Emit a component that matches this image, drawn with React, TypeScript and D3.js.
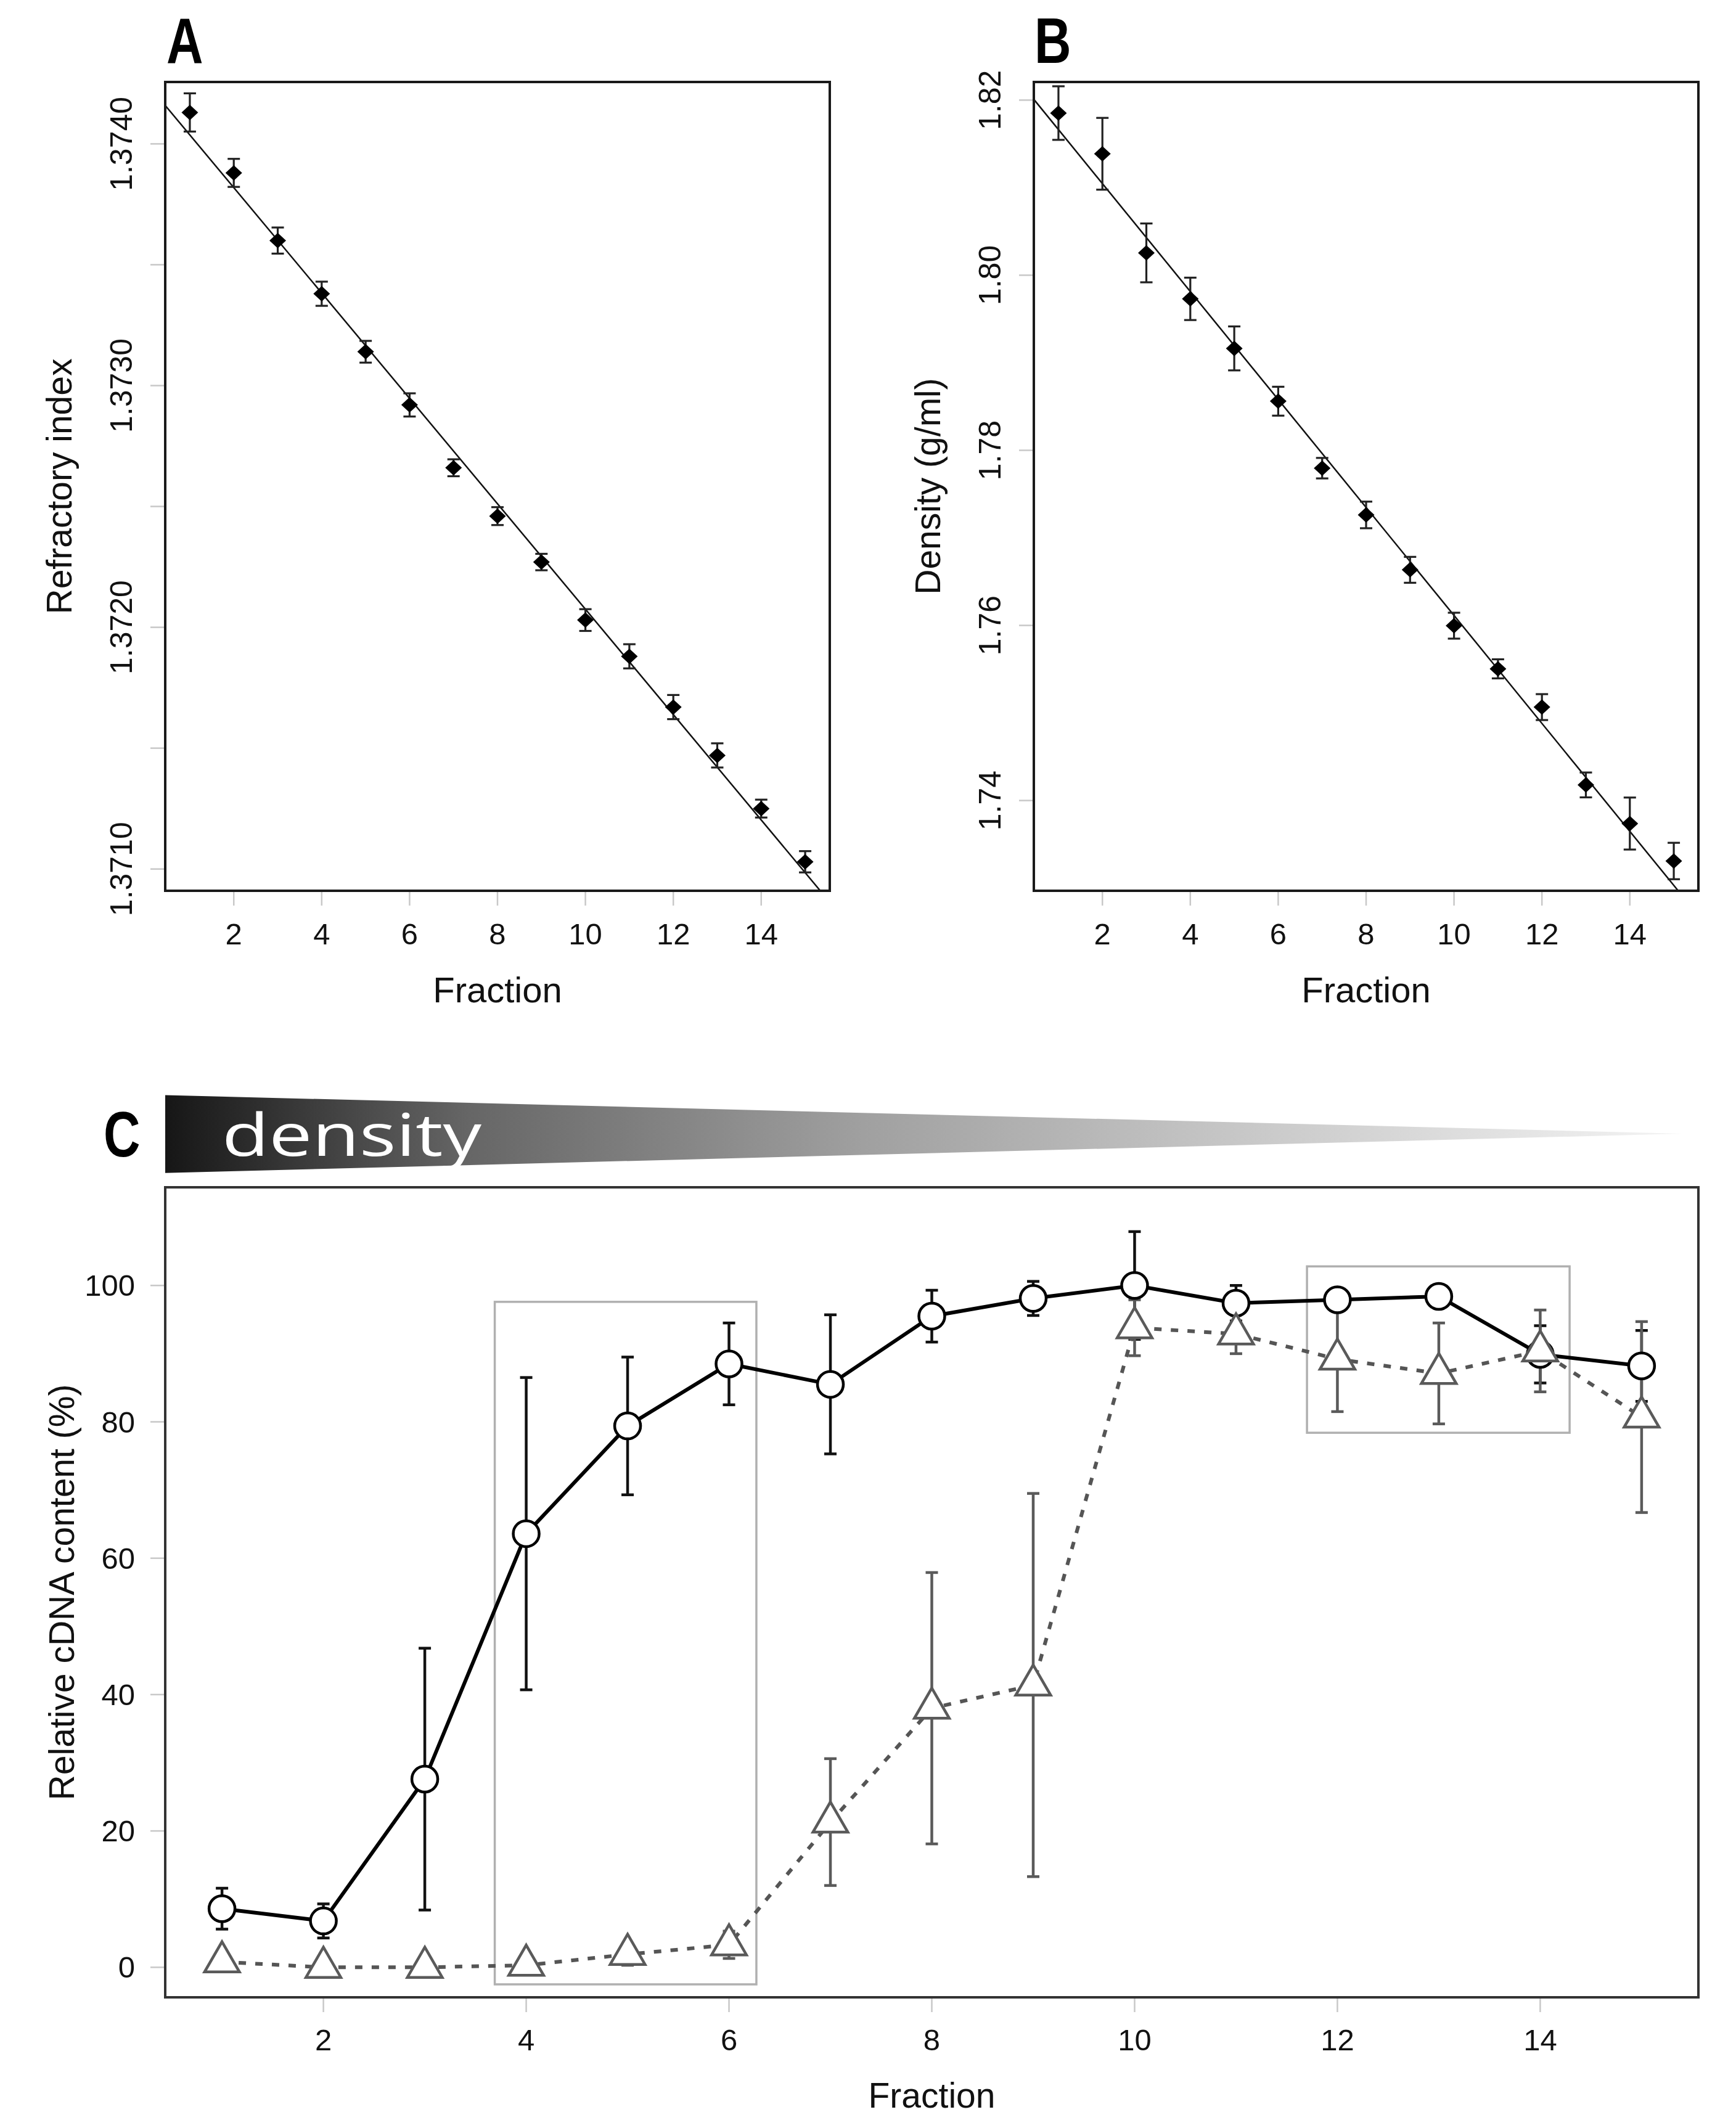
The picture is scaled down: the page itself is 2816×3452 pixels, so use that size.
import React from 'react';
import * as d3 from 'd3';

// fractions collected from the gradient
const fractions = [1, 2, 3, 4, 5, 6, 7, 8, 9, 10, 11, 12, 13, 14, 15];
const fractionTicks = [2, 4, 6, 8, 10, 12, 14];

// panel A: refractive index
const refractiveIndex = [1.37413, 1.37388, 1.3736, 1.37338, 1.37314, 1.37292, 1.37266, 1.37246, 1.37227, 1.37203, 1.37188, 1.37167, 1.37147, 1.37125, 1.37103];
const refractiveErr = [0.000079, 0.000058, 0.000054, 0.00005, 0.000045, 0.000048, 0.000035, 0.000037, 0.000034, 0.000045, 0.00005, 0.00005, 0.00005, 0.000037, 0.000044];
const refractiveFit = [1.374255, -0.000218]; // intercept, slope
const refractiveTicks = [1.371, 1.3715, 1.372, 1.3725, 1.373, 1.3735, 1.374];
const refractiveTickLabels = [1.371, 1.372, 1.373, 1.374];

// panel B: density
const densityValues = [1.81852, 1.81387, 1.80255, 1.7973, 1.79164, 1.78561, 1.77796, 1.77262, 1.76635, 1.75997, 1.75504, 1.75067, 1.74178, 1.73737, 1.73309];
const densityErr = [0.00306, 0.0041, 0.00336, 0.00242, 0.00251, 0.00165, 0.00117, 0.00152, 0.00148, 0.00148, 0.00109, 0.00148, 0.00142, 0.00297, 0.00208];
const densityFit = [1.8228, -0.006166];
const densityTicks = [1.74, 1.76, 1.78, 1.8, 1.82];

// panel C: relative cDNA content
const circleValues = [8.6, 6.8, 27.6, 63.6, 79.4, 88.5, 85.5, 95.5, 98.1, 100.0, 97.4, 97.9, 98.4, 89.9, 88.2];
const circleErr = [3.0, 2.5, 19.2, 22.9, 10.1, 6.0, 10.2, 3.8, 2.5, 7.9, 2.6, 1.0, 1.0, 4.2, 5.2];
const triangleValues = [0.8, 0.0, 0.0, 0.3, 1.9, 3.3, 21.3, 38.0, 41.4, 93.8, 92.9, 89.2, 87.1, 90.4, 80.7];
const triangleErr = [0.3, 0.2, 0.2, 0.3, 1.6, 2.0, 9.3, 19.9, 28.1, 4.1, 2.9, 7.7, 7.4, 6.0, 14.0];
const contentTicks = [0, 20, 40, 60, 80, 100];
const highlightFrom = [3.69, 11.7];
const highlightTo = [6.27, 14.29];
const highlightLow = [-2.5, 78.4];
const highlightHigh = [97.6, 102.8];

const W = 2816;
const H = 3452;
const FONT = "'Liberation Sans', Arial, sans-serif";
const TICK_COLOR = '#c8c8c8';

const xDomain: [number, number] = [0.44, 15.56];

// bold panel letter, squeezed like a condensed face
const PanelLetter: React.FC<{ x: number; y: number; text: string }> = ({ x, y, text }) => (
  <text transform={`translate(${x},${y}) scale(0.8,1)`} fontFamily={FONT} fontWeight="bold" fontSize={103} fill="#000">{text}</text>
);

interface LinePanelProps {
  id: string;
  left: number;
  right: number;
  values: number[];
  errors: number[];
  fit: number[];
  yDomain: [number, number];
  yTicks: number[];
  yLabels: number[];
  yFormat: string;
  yTitle: string;
  letter: string;
  letterX: number;
}

const LinePanel: React.FC<LinePanelProps> = ({ id, left, right, values, errors, fit, yDomain, yTicks, yLabels, yFormat, yTitle, letter, letterX }) => {
  const top = 133;
  const bottom = 1445;
  const x = d3.scaleLinear().domain(xDomain).range([left, right]);
  const y = d3.scaleLinear().domain(yDomain).range([bottom, top]);
  const fmt = d3.format(yFormat);
  const fitLine = d3.line<number>()
    .x(d => x(d))
    .y(d => y(fit[0] + fit[1] * d));
  const labelX = left - 54;
  const titleX = left - 152;

  return (
    <g>
      <defs>
        <clipPath id={`clip-${id}`}>
          <rect x={left} y={top} width={right - left} height={bottom - top} />
        </clipPath>
      </defs>
      <PanelLetter x={letterX} y={102} text={letter} />

      {/* ticks */}
      {fractionTicks.map(t => (
        <g key={`xt${t}`}>
          <line x1={x(t)} x2={x(t)} y1={bottom + 2} y2={bottom + 24} stroke={TICK_COLOR} strokeWidth={2.5} />
          <text x={x(t)} y={1532} textAnchor="middle" fontFamily={FONT} fontSize={49} fill="#111">{t}</text>
        </g>
      ))}
      {yTicks.map(t => (
        <line key={`yt${t}`} x1={left - 24} x2={left - 2} y1={y(t)} y2={y(t)} stroke={TICK_COLOR} strokeWidth={2.5} />
      ))}
      {yLabels.map(t => (
        <text key={`yl${t}`} x={labelX} y={y(t)} transform={`rotate(-90,${labelX},${y(t)})`} textAnchor="middle"
          fontFamily={FONT} fontSize={50} fill="#111">{fmt(t)}</text>
      ))}
      <text x={(left + right) / 2} y={1626} textAnchor="middle" fontFamily={FONT} fontSize={58} fill="#111">Fraction</text>
      <text x={titleX} y={(top + bottom) / 2} transform={`rotate(-90,${titleX},${(top + bottom) / 2})`} textAnchor="middle"
        fontFamily={FONT} fontSize={57} fill="#111">{yTitle}</text>

      {/* regression line */}
      <path d={fitLine([xDomain[0], xDomain[1]]) || ''} stroke="#111" strokeWidth={2.5} fill="none" clipPath={`url(#clip-${id})`} />

      {/* error bars and points */}
      {fractions.map((f, i) => {
        const cx = x(f);
        const cy = y(values[i]);
        const y1 = y(values[i] + errors[i]);
        const y2 = y(values[i] - errors[i]);
        return (
          <g key={`p${f}`}>
            <line x1={cx} x2={cx} y1={y1} y2={y2} stroke="#222" strokeWidth={3.2} />
            <line x1={cx - 10} x2={cx + 10} y1={y1} y2={y1} stroke="#222" strokeWidth={3.2} />
            <line x1={cx - 10} x2={cx + 10} y1={y2} y2={y2} stroke="#222" strokeWidth={3.2} />
            <path d={`M${cx},${cy - 12.5}L${cx + 13.5},${cy}L${cx},${cy + 12.5}L${cx - 13.5},${cy}Z`} fill="#000" />
          </g>
        );
      })}

      <rect x={left} y={top} width={right - left} height={bottom - top} fill="none" stroke="#1a1a1a" strokeWidth={4} />
    </g>
  );
};

const ContentPanel: React.FC = () => {
  const left = 268;
  const right = 2755;
  const top = 1926;
  const bottom = 3240;
  const x = d3.scaleLinear().domain(xDomain).range([left, right]);
  const y = d3.scaleLinear().domain([-4.4, 114.4]).range([bottom, top]);
  const line = d3.line<number>().x((_, i) => x(fractions[i])).y(d => y(d));

  const wedgeLeft = 268;
  const wedgeTip = 2728;
  const r = 21;
  const xc = 1.3468 * r;
  const yc = 0.7776 * r;
  const apex = 1.5551 * r;

  const bars = (vals: number[], errs: number[], color: string, key: string) =>
    fractions.map((f, i) => {
      const cx = x(f);
      const y1 = y(vals[i] + errs[i]);
      const y2 = y(vals[i] - errs[i]);
      return (
        <g key={`${key}${f}`} stroke={color} strokeWidth={4.5}>
          <line x1={cx} x2={cx} y1={y1} y2={y2} />
          <line x1={cx - 10} x2={cx + 10} y1={y1} y2={y1} />
          <line x1={cx - 10} x2={cx + 10} y1={y2} y2={y2} />
        </g>
      );
    });

  return (
    <g>
      <defs>
        <linearGradient id="densityGrad" gradientUnits="userSpaceOnUse" x1={wedgeLeft} x2={wedgeTip} y1={0} y2={0}>
          <stop offset="0" stopColor="#161616" />
          <stop offset="0.2" stopColor="#666666" />
          <stop offset="0.46" stopColor="#a0a0a0" />
          <stop offset="0.72" stopColor="#c9c9c9" />
          <stop offset="1" stopColor="#f4f4f4" />
        </linearGradient>
      </defs>
      <PanelLetter x={168} y={1876} text="C" />
      <polygon points={`${wedgeLeft},1776.5 ${wedgeTip},1839 ${wedgeLeft},1902.8`} fill="url(#densityGrad)" />
      <text transform="translate(360,1875) scale(1.3,1)" fill="#fff" fontFamily="'Open Sans', 'Noto Sans', sans-serif" fontSize={96}>density</text>

      {/* highlight boxes */}
      {highlightFrom.map((h, i) => (
        <rect key={`hl${i}`} x={x(h)} y={y(highlightHigh[i])} width={x(highlightTo[i]) - x(h)}
          height={y(highlightLow[i]) - y(highlightHigh[i])} fill="none" stroke="#b0b0b0" strokeWidth={3.5} />
      ))}

      {/* axes */}
      {fractionTicks.map(t => (
        <g key={`cxt${t}`}>
          <line x1={x(t)} x2={x(t)} y1={bottom + 2} y2={bottom + 24} stroke={TICK_COLOR} strokeWidth={2.5} />
          <text x={x(t)} y={3326} textAnchor="middle" fontFamily={FONT} fontSize={49} fill="#111">{t}</text>
        </g>
      ))}
      {contentTicks.map(t => (
        <g key={`cyt${t}`}>
          <line x1={left - 24} x2={left - 2} y1={y(t)} y2={y(t)} stroke={TICK_COLOR} strokeWidth={2.5} />
          <text x={219} y={y(t)} dy="0.35em" textAnchor="end" fontFamily={FONT} fontSize={49} fill="#111">{t}</text>
        </g>
      ))}
      <text x={(left + right) / 2} y={3419} textAnchor="middle" fontFamily={FONT} fontSize={57} fill="#111">Fraction</text>
      <text x={120} y={(top + bottom) / 2} transform={`rotate(-90,120,${(top + bottom) / 2})`} textAnchor="middle"
        fontFamily={FONT} fontSize={57} fill="#111">Relative cDNA content (%)</text>

      {bars(circleValues, circleErr, '#111', 'ce')}
      {bars(triangleValues, triangleErr, '#5a5a5a', 'te')}

      <path d={line(circleValues) || ''} fill="none" stroke="#000" strokeWidth={6} />
      <path d={line(triangleValues) || ''} fill="none" stroke="#555" strokeWidth={6} strokeDasharray="12 15" />

      {fractions.map((f, i) => (
        <circle key={`c${f}`} cx={x(f)} cy={y(circleValues[i])} r={21} fill="#fff" stroke="#000" strokeWidth={4.5} />
      ))}
      {fractions.map((f, i) => {
        const cx = x(f);
        const cy = y(triangleValues[i]);
        return (
          <path key={`t${f}`} d={`M${cx},${cy - apex}L${cx + xc},${cy + yc}L${cx - xc},${cy + yc}Z`}
            fill="#fff" stroke="#5a5a5a" strokeWidth={4.5} strokeLinejoin="miter" />
        );
      })}

      <rect x={left} y={top} width={right - left} height={bottom - top} fill="none" stroke="#333" strokeWidth={4} />
    </g>
  );
};

const App: React.FC = () => (
  <svg width={W} height={H} viewBox={`0 0 ${W} ${H}`} style={{ position: 'absolute', left: 0, top: 0, display: 'block', background: '#fff' }}>
    <rect width={W} height={H} fill="#fff" />
    <LinePanel id="a" left={268} right={1346} values={refractiveIndex} errors={refractiveErr} fit={refractiveFit}
      yDomain={[1.37091, 1.374256]} yTicks={refractiveTicks} yLabels={refractiveTickLabels} yFormat=".4f"
      yTitle="Refractory index" letter="A" letterX={270} />
    <LinePanel id="b" left={1677} right={2755} values={densityValues} errors={densityErr} fit={densityFit}
      yDomain={[1.72969, 1.82207]} yTicks={densityTicks} yLabels={densityTicks} yFormat=".2f"
      yTitle="Density (g/ml)" letter="B" letterX={1678} />
    <ContentPanel />
  </svg>
);

export default App;
